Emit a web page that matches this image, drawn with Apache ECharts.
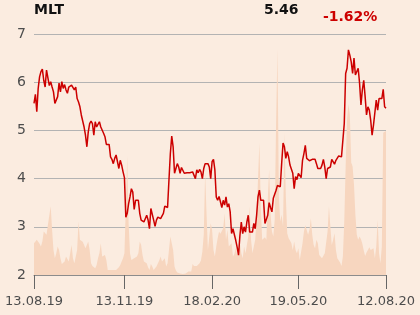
<!DOCTYPE html>
<html>
<head>
<meta charset="utf-8">
<script src="https://cdn.jsdelivr.net/npm/echarts@6/dist/echarts.min.js"></script>
<style>
html,body{margin:0;padding:0;background:#fbece0;}
#c{width:420px;height:315px;}
</style>
</head>
<body>
<div id="c"></div>
<script>
const ticker = 'MLT';
const lastPrice = '5.46';
const changePct = '-1.62%';
const tickDates = ['2019-08-13','2019-11-13','2020-02-18','2020-05-19','2020-08-12'];

const price1 = [5.56,5.75,5.39,5.87,6.11,6.22,6.27,6.04,5.90,6.25,
6.29,5.93,6.01,5.90,5.80,5.56,5.59,5.70,5.98,5.80,
6.01,5.87,5.95,5.84,5.77,5.90,5.87,5.94,5.90,5.84,
5.90,5.66,5.59,5.49,5.32,5.28,5.07,4.90,4.66,4.97,
5.14,5.19,5.14,4.90,5.18,5.07,5.11,5.18,5.07,5.04,
4.94,4.87,4.71,4.73,4.71,4.45,4.40,4.31,4.42,4.49,
4.45,4.21,4.38,4.28,4.14];
const price2 = [4.02,
3.20,3.28,3.48,3.62,3.79,3.72,3.36,3.55,3.57,3.55,
3.28,3.14,3.10,3.10,3.14,3.24,3.14,2.96,3.38,3.40,
3.14,3.01,3.14,3.20,3.24,3.17,3.20,3.28,3.43,3.45,
3.40,3.97,4.52,4.88,4.66,4.11,4.21,4.31,4.24,4.11,
4.23,4.21,4.11,4.14,4.12,4.11,4.12,4.09,4.14,4.11,
4.00,4.18,4.12,4.19,4.14,4.00,4.21,4.31,4.35,4.31,
4.24,4.00];
const price3 = [4.35,4.40,4.18,3.62,3.55,3.63,3.52,3.40,3.55,3.45,
3.62,3.41,3.48,3.31,2.86,2.96,2.98,2.72,2.58,2.41,
2.82,3.10,2.86,3.00,2.89,3.10,3.24,2.89,2.86,2.89,
3.07,2.96,3.24,3.62,3.76,3.55,3.59,3.55,3.07,3.03,
3.24,3.50,3.40,3.31,3.59,3.55,3.76,3.86,3.90,3.83,
4.31,4.74,4.66,4.42,4.56,4.45,4.28,4.24,4.11,3.79,
4.04,3.98];
const price4 = [4.11,4.07,4.02,4.38,4.52,4.69,4.42,4.40,4.37,4.38,
4.40,4.41,4.40,4.31,4.21,4.24,4.21,4.28,4.40,4.24,
4.00,4.21,4.24,4.24,4.40,4.38,4.30,4.38,4.35,4.47,
4.44,4.45,4.49,5.14,6.18,6.29,6.67,6.56,6.42,6.18,
6.50,6.15,6.11,6.29,5.98,5.53,5.84,6.04,5.70,5.32,
5.49,5.42,5.21,4.90,5.11,5.11,5.63,5.42,5.66,5.70,
5.66,5.85,5.49,5.46];

const vol1 = [158,158,175,175,155,142,167,217,217,200,
250,258,342,225,125,83,108,142,125,83,
55,55,67,92,100,67,108,150,83,58,
50,125,267,175,175,165,150,133,125,167,
125,58,45,50,33,50,83,108,158,92,
92,100,75,25,17,25,20,25,28,25,
33,38,50,67,83];
const vol2 = [108,342,592,258,108,75,67,83,75,92,
108,167,150,100,67,72,58,38,25,55,
42,25,32,42,42,72,92,67,75,83,
42,58,125,192,183,125,42,22,12,8,
8,8,5,12,8,13,17,8,17,55,
45,48,45,45,58,72,117,200,508,308,
125,133,258];
const vol3 = [225,125,92,142,183,217,205,200,233,308,
175,225,142,150,158,92,105,133,100,108,
158,108,83,142,108,108,192,342,175,108,
108,175,292,475,658,342,175,167,188,175,
375,525,308,217,192,275,758,1125,392,267,
300,242,708,392,208,183,172,158,125,167,
125,108];
const vol4 = [133,75,75,158,217,248,250,200,225,283,
200,150,133,175,158,100,92,83,75,108,
108,217,342,242,150,175,208,125,83,75,
62,45,92,267,542,775,850,800,560,540,
450,300,200,175,192,178,155,122,95,112,
125,138,125,122,133,83,142,275,108,58,
142,708,717,717];

function fmt(t){
  const d = new Date(t);
  const p = n => String(n).padStart(2,'0');
  return p(d.getUTCDate()) + '.' + p(d.getUTCMonth()+1) + '.' + String(d.getUTCFullYear()).slice(2);
}
const priceSegs = [price1, price2, price3, price4];
const volSegs = [vol1, vol2, vol3, vol4];
const categories = [];
const DAY = 86400000;
priceSegs.forEach((seg, k) => {
  const s = Date.parse(tickDates[k] + 'T00:00:00Z');
  const e = Date.parse(tickDates[k+1] + 'T00:00:00Z');
  const n = (k === priceSegs.length - 1) ? seg.length - 1 : seg.length;
  const days = (e - s) / DAY;
  for (let i = 0; i < seg.length; i++) {
    categories.push(fmt(s + Math.round(i * days / n) * DAY));
  }
});
const price = [].concat(...priceSegs);
const volume = [].concat(...volSegs);
const tickLabels = tickDates.map(d => fmt(Date.parse(d + 'T00:00:00Z')));
const showTick = (idx, val) => tickLabels.indexOf(val) >= 0;

const chart = echarts.init(document.getElementById('c'), null, {renderer:'canvas'});
chart.setOption({
  backgroundColor: '#fbece0',
  animation: false,
  textStyle: {fontFamily: 'DejaVu Sans'},
  grid: {left: 34, right: 34, top: 34, bottom: 40},
  graphic: [
    {type:'text', x:34, y:10, style:{text:ticker, font:'bold 14px "DejaVu Sans"', fill:'#111', verticalAlign:'middle'}},
    {type:'text', x:264, y:10, style:{text:lastPrice, font:'bold 14px "DejaVu Sans"', fill:'#111', verticalAlign:'middle'}},
    {type:'text', x:323, y:17, style:{text:changePct, font:'bold 14px "DejaVu Sans"', fill:'#cc0000', verticalAlign:'middle'}}
  ],
  xAxis: {
    type: 'category',
    data: categories,
    boundaryGap: false,
    axisLine: {lineStyle: {color: '#8c8c8c', width: 1}},
    axisTick: {interval: showTick, length: 14, lineStyle: {color: '#666'}},
    axisLabel: {interval: showTick, color: '#4d4d4d', fontSize: 13, margin: 20, fontFamily: 'DejaVu Sans'},
    splitLine: {show: false}
  },
  yAxis: [
    {type: 'value', min: 2, max: 7, interval: 1,
     axisLine: {show: false}, axisTick: {show: false},
     axisLabel: {color: '#4d4d4d', fontSize: 14, margin: 8, fontFamily: 'DejaVu Sans'},
     splitLine: {lineStyle: {color: '#b3b3b3', width: 1}}},
    {type: 'value', min: 0, max: 1200, show: false, splitLine: {show: false}}
  ],
  series: [
    {type: 'line', yAxisIndex: 1, data: volume, symbol: 'none', silent: true,
     lineStyle: {width: 0}, areaStyle: {color: '#f7d6bf', opacity: 1}, z: 1},
    {type: 'line', data: price, symbol: 'none', silent: true,
     lineStyle: {color: '#cc0000', width: 1.5}, z: 3}
  ]
});
</script>
</body>
</html>
